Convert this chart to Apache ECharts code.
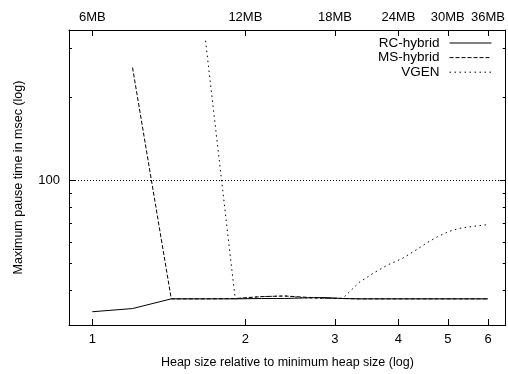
<!DOCTYPE html>
<html>
<head>
<meta charset="utf-8">
<script src="https://cdn.jsdelivr.net/npm/echarts@6/dist/echarts.min.js"></script>
<style>
html,body{margin:0;padding:0;background:#fff;}
#chart{width:508px;height:374px;}
</style>
</head>
<body>
<div id="chart"></div>
<script>
// Heap size relative to minimum heap size
const heapFactors = [1, 1.2, 1.43, 1.67, 1.91, 2.15, 2.39, 2.63, 2.87, 3.11, 3.35, 3.59, 3.83, 4.07, 4.31, 4.55, 4.79, 5.03, 5.27, 5.51, 5.75, 6.0];
// Maximum pause time in msec
const rcHybrid = [33.5, 34.4, 37.3, 37.3, 37.3, 37.4, 37.4, 37.6, 37.7, 37.4, 37.3, 37.3, 37.3, 37.3, 37.3, 37.3, 37.3, 37.3, 37.3, 37.3, 37.3, 37.3];
const msHybrid = [null, 256, 37.3, 37.3, 37.4, 38.0, 38.2, 37.8, 37.5, 37.4, 37.3, 37.3, 37.3, 37.3, 37.3, 37.3, 37.3, 37.3, 37.3, 37.3, 37.3, 37.3];
const vgen = [null, null, null, 320, 37.3, 38.0, 38.2, 37.6, 37.4, 37.5, 42.8, 46.5, 49.7, 52.2, 55.7, 59.5, 62.8, 65.4, 67.1, 67.9, 68.6, 69.2];

const bottomTicks = [1, 2, 3, 4, 5, 6];
const bottomLabels = ['1', '2', '3', '4', '5', '6'];
const topLabels = ['6MB', '12MB', '18MB', '24MB', '30MB', '36MB'];
const yMinorTicks = [40, 50, 60, 70, 80, 90, 200, 300];
const yMajorTicks = [100];
const yLabels = ['100'];

const FONT = 'Liberation Sans, Arial, Helvetica, sans-serif';

function pairs(vals) {
  const out = [];
  vals.forEach((v, i) => { if (v != null) out.push([heapFactors[i], v]); });
  return out;
}
function labelFor(ticks, labels) {
  return function (v) {
    let best = 0, d = Infinity;
    ticks.forEach((t, i) => { const dd = Math.abs(t - v); if (dd < d) { d = dd; best = i; } });
    return labels[best];
  };
}

const chart = echarts.init(document.getElementById('chart'), null, {renderer: 'canvas'});

const axisLine = {show: true, lineStyle: {color: '#000', width: 1}};
const xCommon = {
  type: 'log', logBase: 10, min: 0.9, max: 6.5,
  axisLine: axisLine,
  splitLine: {show: false},
  minorTick: {show: false},
  minorSplitLine: {show: false}
};
const yCommon = {
  type: 'log', logBase: 10, min: 30, max: 350,
  axisLine: axisLine,
  splitLine: {show: false},
  minorTick: {show: false},
  minorSplitLine: {show: false}
};

chart.setOption({
  animation: false,
  backgroundColor: '#fff',
  textStyle: {fontFamily: FONT, color: '#000'},
  grid: {left: 69, right: 1, top: 30, bottom: 46, containLabel: false},
  legend: {
    orient: 'vertical', right: 16, top: 36, align: 'right', padding: 0,
    itemWidth: 42, itemHeight: 12, itemGap: 0.6,
    itemStyle: {opacity: 0},
    lineStyle: {width: 1},
    textStyle: {fontFamily: FONT, fontSize: 13.5, color: '#000', padding: [0, 5, 0, 0]},
    data: ['RC-hybrid', 'MS-hybrid', 'VGEN']
  },
  xAxis: [
    Object.assign({}, xCommon, {
      position: 'bottom',
      name: 'Heap size relative to minimum heap size (log)',
      nameLocation: 'middle', nameGap: 31,
      nameTextStyle: {fontFamily: FONT, fontSize: 12.5, color: '#000'},
      axisTick: {show: true, inside: true, length: 6, customValues: bottomTicks, lineStyle: {color: '#000'}},
      axisLabel: {show: true, margin: 8, fontSize: 13, color: '#000', fontFamily: FONT,
        customValues: bottomTicks, formatter: labelFor(bottomTicks, bottomLabels)}
    }),
    Object.assign({}, xCommon, {
      position: 'top',
      axisTick: {show: true, inside: true, length: 6, customValues: bottomTicks, lineStyle: {color: '#000'}},
      axisLabel: {show: true, margin: 6, fontSize: 13, color: '#000', fontFamily: FONT,
        customValues: bottomTicks, formatter: labelFor(bottomTicks, topLabels)}
    })
  ],
  yAxis: [
    Object.assign({}, yCommon, {
      position: 'left',
      name: 'Maximum pause time in msec (log)',
      nameLocation: 'middle', nameGap: 44, nameRotate: 90,
      nameTextStyle: {fontFamily: FONT, fontSize: 12.5, color: '#000'},
      axisTick: {show: true, inside: true, length: 3, customValues: yMinorTicks, lineStyle: {color: '#000'}},
      axisLabel: {show: true, margin: 9, fontSize: 13, color: '#000', fontFamily: FONT,
        customValues: yMajorTicks, formatter: labelFor(yMajorTicks, yLabels)}
    }),
    Object.assign({}, yCommon, {
      position: 'right',
      axisTick: {show: true, inside: true, length: 3, customValues: yMinorTicks, lineStyle: {color: '#000'}},
      axisLabel: {show: false}
    }),
    Object.assign({}, yCommon, {
      position: 'left',
      axisLine: {show: false},
      axisTick: {show: true, inside: true, length: 6, customValues: yMajorTicks, lineStyle: {color: '#000'}},
      axisLabel: {show: false}
    }),
    Object.assign({}, yCommon, {
      position: 'right',
      axisLine: {show: false},
      axisTick: {show: true, inside: true, length: 6, customValues: yMajorTicks, lineStyle: {color: '#000'}},
      axisLabel: {show: false}
    })
  ],
  series: [
    {
      name: 'RC-hybrid', type: 'line', xAxisIndex: 0, yAxisIndex: 0,
      data: pairs(rcHybrid), symbol: 'none', showSymbol: false,
      lineStyle: {color: '#000', width: 1, type: 'solid'},
      itemStyle: {color: '#000'},
      markLine: {
        silent: true, symbol: 'none', label: {show: false},
        lineStyle: {color: '#000', width: 1, type: [1, 2]},
        data: [{yAxis: 100}]
      }
    },
    {
      name: 'MS-hybrid', type: 'line', xAxisIndex: 0, yAxisIndex: 0,
      data: pairs(msHybrid), symbol: 'none', showSymbol: false,
      lineStyle: {color: '#000', width: 1, type: [4, 2]},
      itemStyle: {color: '#000'}
    },
    {
      name: 'VGEN', type: 'line', xAxisIndex: 0, yAxisIndex: 0,
      data: pairs(vgen), symbol: 'none', showSymbol: false,
      lineStyle: {color: '#000', width: 1, type: [1.5, 3.5]},
      itemStyle: {color: '#000'}
    }
  ]
});
</script>
</body>
</html>
